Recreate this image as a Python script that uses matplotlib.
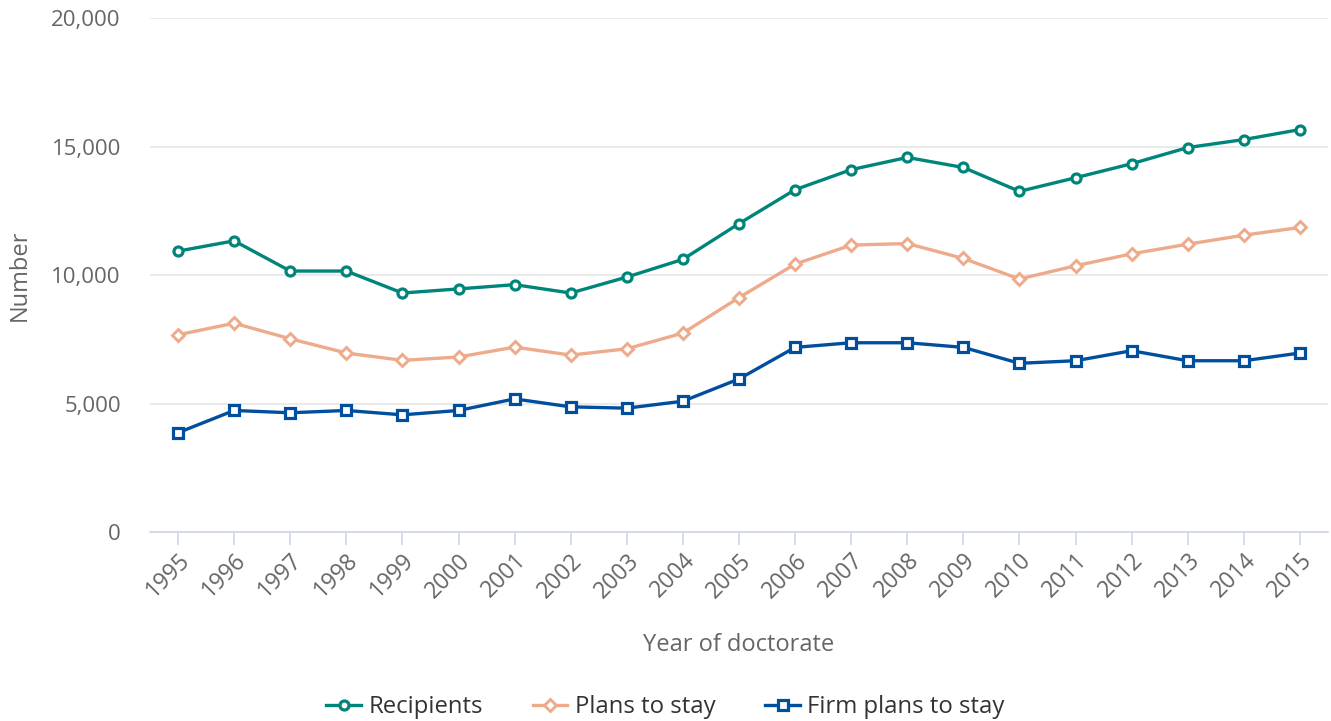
import matplotlib.pyplot as plt
from matplotlib.ticker import FuncFormatter

plt.rcParams['font.family'] = ['Open Sans', 'DejaVu Sans']

years = [str(y) for y in range(1995, 2016)]
recipients = [10930, 11330, 10155, 10155, 9300, 9460, 9625, 9300, 9920, 10610,
              12000, 13320, 14100, 14575, 14185, 13255, 13785, 14330, 14960, 15270, 15660]
plans_to_stay = [7675, 8125, 7520, 6965, 6680, 6810, 7195, 6885, 7130, 7740,
                 9120, 10425, 11165, 11225, 10645, 9845, 10360, 10825, 11200, 11550, 11850]
firm_plans = [3865, 4730, 4640, 4730, 4560, 4730, 5180, 4870, 4820, 5090,
              5955, 7185, 7365, 7365, 7185, 6565, 6665, 7055, 6665, 6665, 6965]

fig = plt.figure(figsize=(13.31, 7.21), dpi=100)
ax = fig.add_axes([0.1127, 0.2621, 0.885, 0.7129])

x = list(range(len(years)))
ax.plot(x, recipients, color="#00857a", linewidth=2.4, marker="o", markersize=6.5,
        markerfacecolor="white", markeredgewidth=2.3, label="Recipients", zorder=3)
ax.plot(x, plans_to_stay, color="#edab8b", linewidth=2.4, marker="D", markersize=6.5,
        markerfacecolor="white", markeredgewidth=2.1, label="Plans to stay", zorder=3)
ax.plot(x, firm_plans, color="#004f9e", linewidth=2.4, marker="s", markersize=6.5,
        markerfacecolor="white", markeredgewidth=2.3, label="Firm plans to stay", zorder=3)

ax.set_xlim(-0.5, len(years) - 0.5)
ax.set_ylim(0, 20000)
ax.set_yticks([0, 5000, 10000, 15000, 20000])
ax.yaxis.set_major_formatter(FuncFormatter(lambda v, p: f"{int(v):,}"))
ax.set_xticks(x)
ax.set_xticklabels(years, rotation=45, ha="right", rotation_mode="anchor")

ax.grid(axis="y", color="#e6e6e6", linewidth=1.2)
ax.set_axisbelow(True)
for s in ["top", "right", "left"]:
    ax.spines[s].set_visible(False)
ax.spines["bottom"].set_color("#ccd6eb")
ax.spines["bottom"].set_linewidth(1.2)
ax.tick_params(axis="x", colors="#ccd6eb", length=9, width=1.2, labelcolor="#666666",
               labelsize=16.5, pad=3)
ax.tick_params(axis="y", length=0, labelcolor="#666666", labelsize=16, pad=21)

ax.set_xlabel("Year of doctorate", fontsize=17, color="#666666", labelpad=22)
ax.set_ylabel("Number", fontsize=17, color="#666666", labelpad=14)

fig.legend(loc="lower center", bbox_to_anchor=(0.5, -0.027), ncol=3, frameon=False,
           handlelength=1.45, handletextpad=0.3, columnspacing=2.1,
           labelcolor="#333333", prop={"size": 17.2, "weight": "medium"})

fig.savefig("out.png", dpi=100)
